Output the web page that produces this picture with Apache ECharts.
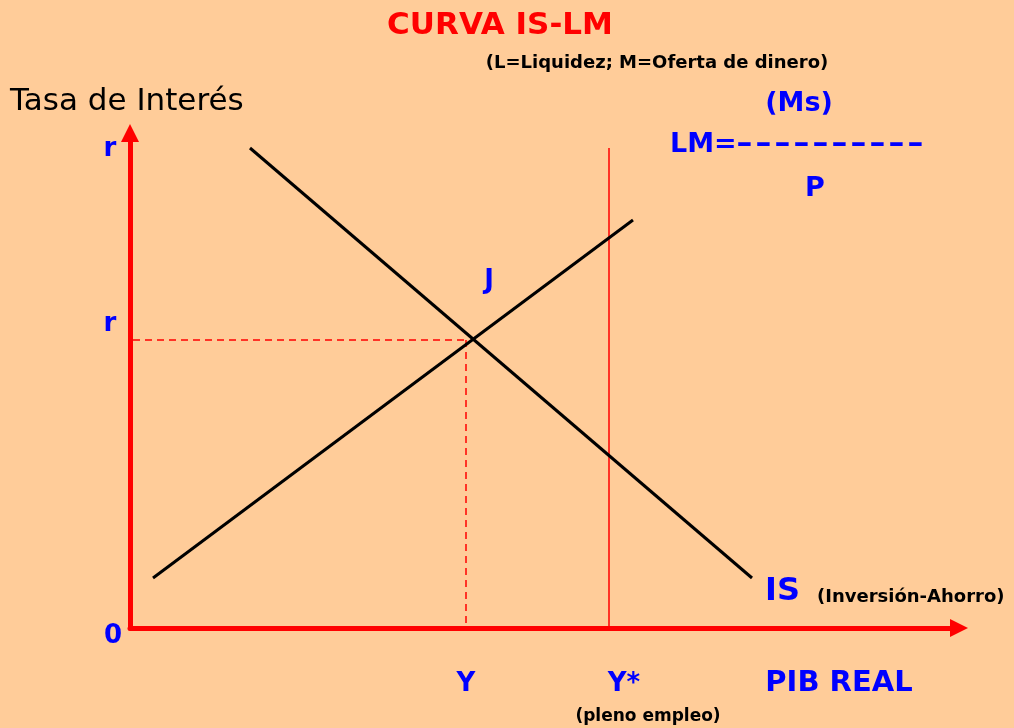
<!DOCTYPE html>
<html>
<head>
<meta charset="utf-8">
<script src="https://cdn.jsdelivr.net/npm/echarts@6/dist/echarts.min.js"></script>
<style>
  html, body { margin: 0; padding: 0; background: #ffcc99; }
  #chart { width: 1014px; height: 728px; }
</style>
</head>
<body>
<div id="chart"></div>
<script>
// diagram values (x = output, y = interest rate)
const isCurve = [[120, 480], [622, 50]];
const lmCurve = [[23, 50], [503, 408]];
const rLevelGuide = [[3, 288], [336, 288]];
const yLevelGuide = [[336, 288], [336, 0]];
const fullEmployment = [[479, 480], [479, 0]];

const yTickValues = [480, 288];
const yTickLabels = ['r', 'r'];
const xTickValues = [336, 479];
const xTickLabels = ['Y', 'Y*'];
const pointJ = [359, 346];

const FONT = '"DejaVu Sans", sans-serif';
const BLUE = '#0000ff';
const RED = '#ff0000';

const chart = echarts.init(document.getElementById('chart'));

function lineSeries(data, color, width, type) {
  return {
    type: 'line',
    data: data,
    symbol: 'none',
    silent: true,
    lineStyle: { color: color, width: width, type: type || 'solid' },
  };
}

const axisBase = {
  type: 'value', min: 0,
  axisLine: {
    onZero: false,
    lineStyle: { color: RED, width: 5 },
    symbol: ['none', 'triangle'], symbolSize: [18, 18],
  },
  axisTick: { show: false }, axisLabel: { show: false }, splitLine: { show: false },
};

chart.setOption({
  animation: false,
  backgroundColor: '#ffcc99',
  grid: { left: 130, top: 133, width: 829, height: 495 },
  xAxis: Object.assign({}, axisBase, { max: 829 }),
  yAxis: Object.assign({}, axisBase, { max: 495 }),
  series: [
    lineSeries(rLevelGuide, RED, 1.5, [7, 5]),
    lineSeries(yLevelGuide, RED, 1.5, [7, 5]),
    lineSeries(fullEmployment, RED, 1.5),
    lineSeries(isCurve, '#000', 3),
    lineSeries(lmCurve, '#000', 3),
  ],
});

function txt(x, y, text, size, color, opts) {
  opts = opts || {};
  const el = {
    type: 'text', x: x, y: y, silent: true,
    style: {
      text: text, fill: color,
      font: (opts.weight || 'bold') + ' ' + size + 'px ' + FONT,
      textAlign: opts.align || 'center', textVerticalAlign: 'middle',
    },
  };
  if (opts.scaleX) el.scaleX = opts.scaleX;
  return el;
}

const marks = [];
const yLabelShift = [5, -12];
yTickValues.forEach((v, i) => {
  const p = chart.convertToPixel({ gridIndex: 0 }, [0, v]);
  marks.push(txt(p[0] - 20, p[1] + yLabelShift[i] - 4, yTickLabels[i], 26, BLUE));
});
xTickValues.forEach((v, i) => {
  const p = chart.convertToPixel({ gridIndex: 0 }, [v, 0]);
  marks.push(txt(p[0] + (i ? 15 : 0), p[1] + 56, xTickLabels[i], 26, BLUE));
});
const origin = chart.convertToPixel({ gridIndex: 0 }, [0, 0]);
marks.push(txt(origin[0] - 17, origin[1] + 8, '0', 26, BLUE));
const jp = chart.convertToPixel({ gridIndex: 0 }, pointJ);
marks.push(txt(jp[0], jp[1] - 1, 'J', 26, BLUE));

// the fraction bar of LM = Ms / P, written as ten hyphens
for (let i = 0; i < 10; i++) {
  marks.push(txt(736 + i * 19, 145, '-', 27, BLUE, { align: 'left', scaleX: 1.5 }));
}

chart.setOption({
  graphic: marks.concat([
    txt(500, 26, 'CURVA IS-LM', 31, RED),
    txt(657, 63, '(L=Liquidez; M=Oferta de dinero)', 18, '#000'),
    txt(10, 102, 'Tasa de Interés', 31, '#000', { weight: 'normal', align: 'left' }),
    txt(799, 104, '(Ms)', 27, BLUE),
    txt(670, 145, 'LM=', 27, BLUE, { align: 'left' }),
    txt(815, 189, 'P', 27, BLUE),
    txt(765, 592, 'IS', 32, BLUE, { align: 'left' }),
    txt(817, 597, '(Inversión-Ahorro)', 18, '#000', { align: 'left' }),
    txt(839, 683, 'PIB REAL', 29, BLUE),
    txt(648, 717, '(pleno empleo)', 17, '#000'),
  ]),
});
</script>
</body>
</html>
